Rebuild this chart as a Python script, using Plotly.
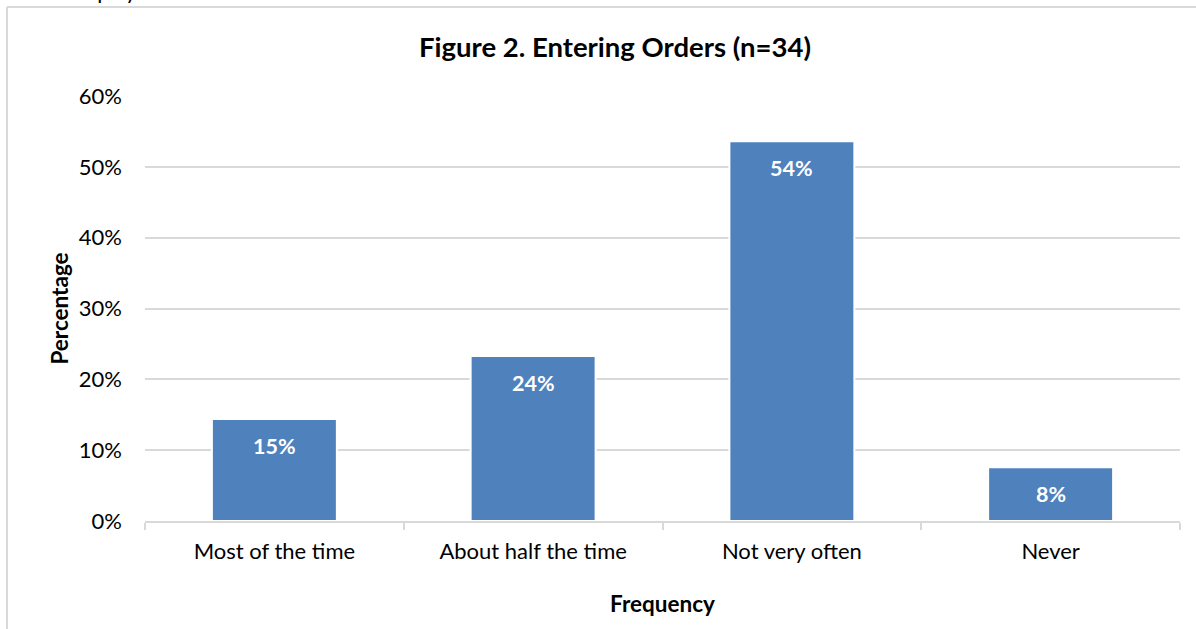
import plotly.graph_objects as go

categories = ["Most of the time", "About half the time", "Not very often", "Never"]
values = [0.144, 0.233, 0.536, 0.076]
labels = ["15%", "24%", "54%", "8%"]
y_ticks = [0, 0.1, 0.2, 0.3, 0.4, 0.5, 0.6]

FONT = "Lato"
GRID = "#d9d9d9"

fig = go.Figure()
fig.add_trace(go.Bar(
    x=categories, y=values,
    marker=dict(color="#4f81bd", line=dict(color="#ffffff", width=2)),
    hoverinfo="skip",
))

for c, v, t in zip(categories, values, labels):
    fig.add_annotation(x=c, y=v, text="<b>" + t + "</b>", showarrow=False,
                       yanchor="top", yshift=-12,
                       font=dict(family=FONT, size=21.5, color="white"))

L, R, T, B = 145, 16, 96, 108
W, H = 1196, 629
pw, ph = W - L - R, H - T - B

# outer chart border (top and left edges visible)
fig.add_shape(type="line", xref="paper", yref="paper",
              x0=(7 - L) / pw, x1=(W + 5 - L) / pw,
              y0=(H - B - 7) / ph, y1=(H - B - 7) / ph,
              line=dict(color=GRID, width=2))
fig.add_shape(type="line", xref="paper", yref="paper",
              x0=(7 - L) / pw, x1=(7 - L) / pw,
              y0=(H - B - 7) / ph, y1=-(B + 5) / ph,
              line=dict(color=GRID, width=2))

# text of the page above the chart, mostly cut off by the top edge
fig.add_annotation(xref="paper", yref="paper",
                   x=(139 - L) / pw, y=(H - B - 6) / ph,
                   xanchor="right", yanchor="bottom", showarrow=False,
                   text="display", font=dict(family=FONT, size=22, color="black"))

fig.update_layout(
    width=W, height=H,
    margin=dict(l=L, r=R, t=T, b=B),
    paper_bgcolor="white", plot_bgcolor="white",
    bargap=0.517,
    showlegend=False,
    title=dict(text="<b>Figure 2. Entering Orders (n=34)</b>", x=615 / W, xanchor="center",
               y=1 - 47 / H, yanchor="middle",
               font=dict(family=FONT, size=27.5, color="black")),
    font=dict(family=FONT, size=22, color="black"),
)
fig.update_xaxes(
    showline=True, linecolor=GRID, linewidth=2,
    ticks="outside", tickson="boundaries", ticklen=7, tickcolor=GRID, tickwidth=2,
    showgrid=False, ticklabelstandoff=10,
    title=dict(text="<b>Frequency</b>", font=dict(family=FONT, size=22.5), standoff=33),
    tickfont=dict(family=FONT, size=22, color="black"),
)
fig.update_yaxes(
    range=[0, 0.6], tickvals=y_ticks, tickformat=".0%",
    showgrid=True, gridcolor=GRID, gridwidth=1.5,
    showline=False, zeroline=False,
    ticks="", ticklabelstandoff=22,
    title=dict(text="<b>Percentage</b>", font=dict(family=FONT, size=22.5), standoff=3),
    tickfont=dict(family=FONT, size=22, color="black"),
)

fig.write_html("out.html", config={"displayModeBar": False},
               post_script="document.body.style.margin='0';")
